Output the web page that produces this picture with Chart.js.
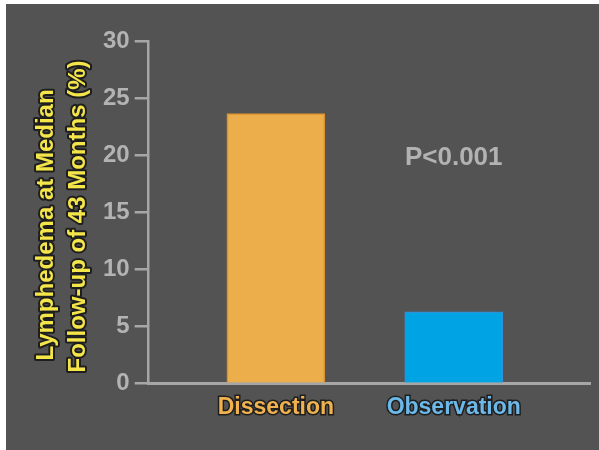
<!DOCTYPE html>
<html><head><meta charset="utf-8">
<script src="https://cdn.jsdelivr.net/npm/chart.js@4"></script>
<style>
html,body{margin:0;padding:0;background:#fff;width:599px;height:450px;overflow:hidden}
#c{position:absolute;left:6px;top:4px;background:#535353}
</style></head><body>
<canvas id="c" width="593" height="446"></canvas>
<script>
const categories = ['Dissection', 'Observation'];
const values = [23.7, 6.3];
const categoryPositions = [1, 2];
const yTitleLines = ['Lymphedema at Median', 'Follow-up of 43 Months (%)'];
const pValueText = 'P<0.001';
const barColors = ['#ebae4b', '#00a4e4'];
const barBorderColors = ['#d8922e', '#2d92d6'];
const labelColors = ['#f0b24f', '#6cb8e8'];

const FONT = '"Liberation Sans", Arial, Helvetica, sans-serif';
const axisColor = '#a6a6a6';
const tickColor = '#b3b3b3';

const annotate = {
  id: 'annotate',
  afterDraw(chart) {
    const {ctx, chartArea, scales: {x, y}} = chart;
    ctx.save();
    ctx.textAlign = 'center';
    ctx.textBaseline = 'middle';
    ctx.font = 'bold 26px ' + FONT;
    ctx.fillStyle = '#b2b2b2';
    ctx.fillText(pValueText, x.getPixelForValue(categoryPositions[1]), y.getPixelForValue(19.8));

    ctx.font = 'bold 24px ' + FONT;
    ctx.lineJoin = 'round';
    ctx.lineWidth = 4;
    ctx.strokeStyle = '#1e1e1e';
    ctx.fillStyle = '#f3e54a';
    const offsets = [[-102.7, 221], [-70.7, 212.5]];
    yTitleLines.forEach((t, i) => {
      ctx.save();
      ctx.translate(chartArea.left + offsets[i][0], offsets[i][1]);
      ctx.rotate(-Math.PI / 2);
      ctx.strokeText(t, 0, 0);
      ctx.fillText(t, 0, 0);
      ctx.restore();
    });
    ctx.restore();
  }
};

new Chart(document.getElementById('c'), {
  type: 'bar',
  data: {
    datasets: [{
      data: categories.map((c, i) => ({x: categoryPositions[i], y: values[i]})),
      backgroundColor: barColors,
      borderColor: barBorderColors,
      borderWidth: 1.5,
      barThickness: 98
    }]
  },
  options: {
    responsive: false,
    animation: false,
    devicePixelRatio: 1,
    layout: {padding: {left: 92, top: 37.7, right: 8.3, bottom: 17.7}},
    plugins: {legend: {display: false}, tooltip: {enabled: false}},
    scales: {
      x: {
        type: 'linear',
        min: 0.285,
        max: 2.77,
        offset: false,
        afterBuildTicks: (s) => { s.ticks = categoryPositions.map(v => ({value: v})); },
        grid: {display: false, drawTicks: false, offset: false},
        border: {display: true, color: axisColor, width: 3},
        ticks: {
          padding: 10.5,
          autoSkip: false,
          maxRotation: 0,
          font: {family: FONT, size: 23, weight: 'bold'},
          color: (c) => labelColors[c.index],
          textStrokeColor: '#1e1e1e',
          textStrokeWidth: 3,
          callback: (v) => categories[categoryPositions.indexOf(v)]
        }
      },
      y: {
        min: 0,
        max: 30,
        grid: {display: true, drawOnChartArea: false, drawTicks: true, tickLength: 14, color: axisColor, lineWidth: 2.5},
        border: {display: true, color: axisColor, width: 2.5},
        ticks: {
          stepSize: 5,
          padding: 5,
          font: {family: FONT, size: 24, weight: 'bold'},
          color: tickColor
        }
      }
    }
  },
  plugins: [annotate]
});
</script>
</body></html>
